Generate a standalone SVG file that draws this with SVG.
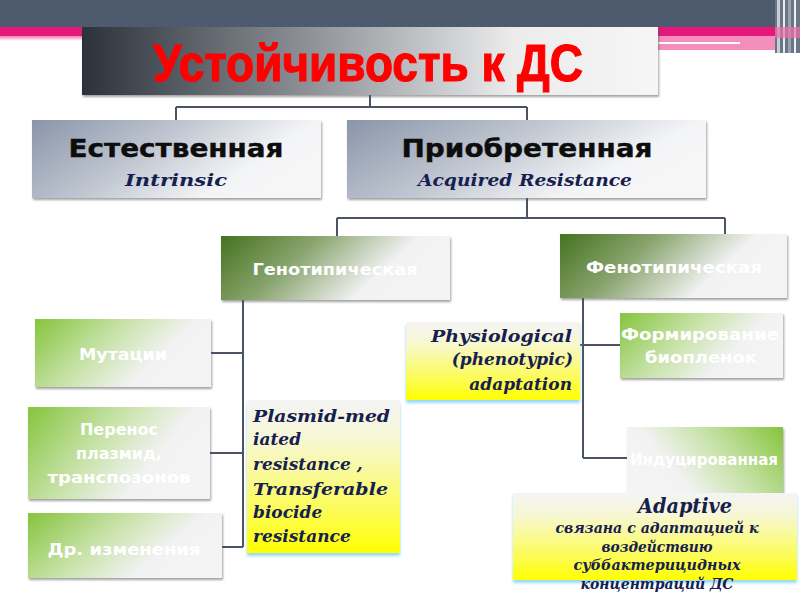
<svg xmlns="http://www.w3.org/2000/svg" width="800" height="600" viewBox="0 0 800 600">
<defs>
<linearGradient id="gTitle" x1="0" y1="0" x2="1" y2="0">
<stop offset="0" stop-color="#2c323b"/>
<stop offset="0.45" stop-color="#9c9fa4"/>
<stop offset="0.75" stop-color="#ececec"/>
<stop offset="1" stop-color="#f6f6f6"/>
</linearGradient>
<linearGradient id="gGrey" x1="0" y1="0" x2="1" y2="0.4">
<stop offset="0" stop-color="#8995a9"/>
<stop offset="0.5" stop-color="#c3c9d3"/>
<stop offset="0.85" stop-color="#f3f4f6"/>
<stop offset="1" stop-color="#f6f6f7"/>
</linearGradient>
<linearGradient id="gDark" x1="0" y1="0" x2="1" y2="0.3">
<stop offset="0" stop-color="#45731f"/>
<stop offset="0.4" stop-color="#8aa570"/>
<stop offset="0.8" stop-color="#f2f2f2"/>
<stop offset="1" stop-color="#f4f4f4"/>
</linearGradient>
<linearGradient id="gLight" x1="0" y1="0" x2="1" y2="0.4">
<stop offset="0" stop-color="#85c43e"/>
<stop offset="0.45" stop-color="#c6e2a6"/>
<stop offset="0.8" stop-color="#f2f2f2"/>
<stop offset="1" stop-color="#f4f4f4"/>
</linearGradient>
<linearGradient id="gLightR" x1="1" y1="0" x2="0" y2="0.4">
<stop offset="0" stop-color="#85c43e"/>
<stop offset="0.45" stop-color="#c6e2a6"/>
<stop offset="0.8" stop-color="#f2f2f2"/>
<stop offset="1" stop-color="#f4f4f4"/>
</linearGradient>
<linearGradient id="gYellow" x1="0" y1="0" x2="0" y2="1">
<stop offset="0" stop-color="#f4f4f4"/>
<stop offset="0.25" stop-color="#f7f7d6"/>
<stop offset="0.75" stop-color="#fcfc50"/>
<stop offset="1" stop-color="#ffff00"/>
</linearGradient>
<linearGradient id="gFade" x1="0" y1="0" x2="0" y2="1">
<stop offset="0" stop-color="#f07db2"/>
<stop offset="1" stop-color="#ffffff"/>
</linearGradient>
<filter id="sh" x="-5%" y="-5%" width="110%" height="120%">
<feDropShadow dx="1" dy="2" stdDeviation="1.2" flood-color="#555" flood-opacity="0.55"/>
</filter>
<filter id="glow" x="-5%" y="-5%" width="110%" height="120%">
<feDropShadow dx="0" dy="3" stdDeviation="1.5" flood-color="#7fd0f5" flood-opacity="0.8"/>
</filter>
<style>
.cn{fill:none;stroke:#4a5465;stroke-width:2}
.ru{font-family:"DejaVu Sans","Liberation Sans",sans-serif;font-weight:bold;text-anchor:middle}
.wh{fill:#ffffff;font-size:16px}
.big{fill:#0d0d0d;font-size:24px;stroke:#0d0d0d;stroke-width:0.4}
.en{font-family:"DejaVu Serif","Liberation Serif",serif;font-weight:bold;font-style:italic;fill:#16204f}
</style>
</defs>

<g id="background">
<rect x="0" y="0" width="800" height="27" fill="#4e5a6d"/>
<rect x="0" y="27" width="790" height="9" fill="#e3177c"/>
<rect x="0" y="36" width="790" height="5" fill="url(#gFade)"/>
<rect x="658" y="36" width="117" height="14" fill="#f38ebc"/>
<rect x="658" y="42" width="82" height="2" fill="#ffffff"/>
<rect x="775" y="0" width="25" height="53" fill="#6a7588"/>
<rect x="777" y="0" width="3" height="53" fill="#c8cdd5"/>
<rect x="783" y="0" width="2" height="53" fill="#e8eaee"/>
<rect x="788" y="0" width="3" height="53" fill="#9aa2b0"/>
<rect x="794" y="0" width="2" height="53" fill="#f0f0f3"/>
<rect x="775" y="27" width="25" height="11" fill="#ef6fab" opacity="0.7"/>
</g>

<g id="connectors">
<path class="cn" d="M370 95 V107 M176 107 H527 M176 107 V120 M527 107 V120"/>
<path class="cn" d="M527 198 V218 M337 218 H725 M337 218 V236 M725 218 V234"/>
<path class="cn" d="M243 300 V547 M211 353 H243 M210 453 H243 M222 547 H243"/>
<path class="cn" d="M583 298 V458 M580 345 H620 M583 458 H627"/>
</g>

<g id="title">
<rect x="82" y="27" width="576" height="68" fill="url(#gTitle)" filter="url(#sh)"/>
<text x="368" y="81" font-family="'Liberation Sans',Arial,sans-serif" font-weight="bold" font-size="52" fill="#ff0000" stroke="#ff0000" stroke-width="1.2" text-anchor="middle" textLength="430" lengthAdjust="spacingAndGlyphs">Устойчивость к ДС</text>
</g>

<g id="intrinsic">
<rect x="32" y="120" width="289" height="78" fill="url(#gGrey)" filter="url(#sh)"/>
<text class="ru big" x="176" y="157" textLength="215" lengthAdjust="spacingAndGlyphs">Естественная</text>
<text class="en" x="176" y="186" font-size="17" text-anchor="middle" textLength="102" lengthAdjust="spacingAndGlyphs">Intrinsic</text>
</g>

<g id="acquired">
<rect x="347" y="120" width="359" height="78" fill="url(#gGrey)" filter="url(#sh)"/>
<text class="ru big" x="527" y="157" textLength="251" lengthAdjust="spacingAndGlyphs">Приобретенная</text>
<text class="en" x="525" y="186" font-size="17" text-anchor="middle" textLength="214" lengthAdjust="spacingAndGlyphs">Acquired Resistance</text>
</g>

<g id="genotypic">
<rect x="221" y="236" width="229" height="64" fill="url(#gDark)" filter="url(#sh)"/>
<text class="ru wh" x="335" y="275" textLength="165" lengthAdjust="spacingAndGlyphs">Генотипическая</text>
</g>

<g id="phenotypic">
<rect x="560" y="234" width="227" height="64" fill="url(#gDark)" filter="url(#sh)"/>
<text class="ru wh" x="674" y="273" textLength="176" lengthAdjust="spacingAndGlyphs">Фенотипическая</text>
</g>

<g id="mutations">
<rect x="35" y="319" width="176" height="68" fill="url(#gLight)" filter="url(#sh)"/>
<text class="ru wh" x="123" y="360" font-size="17" textLength="88" lengthAdjust="spacingAndGlyphs">Мутации</text>
</g>

<g id="transfer">
<rect x="28" y="407" width="182" height="92" fill="url(#gLight)" filter="url(#sh)"/>
<text class="ru wh" x="119" y="435" font-size="17">Перенос</text>
<text class="ru wh" x="119" y="459" font-size="17">плазмид,</text>
<text class="ru wh" x="119" y="483" font-size="17" textLength="143" lengthAdjust="spacingAndGlyphs">транспозонов</text>
</g>

<g id="other">
<rect x="28" y="513" width="194" height="65" fill="url(#gLight)" filter="url(#sh)"/>
<text class="ru wh" x="124" y="555" font-size="17" textLength="153" lengthAdjust="spacingAndGlyphs">Др. изменения</text>
</g>

<g id="plasmid">
<rect x="247" y="400" width="153" height="153" fill="url(#gYellow)" filter="url(#glow)"/>
<text class="en" x="253" y="422" font-size="17" textLength="137" lengthAdjust="spacingAndGlyphs">Plasmid-med</text>
<text class="en" x="253" y="445" font-size="17">iated</text>
<text class="en" x="253" y="470" font-size="17">resistance ,</text>
<text class="en" x="253" y="495" font-size="17" textLength="135" lengthAdjust="spacingAndGlyphs">Transferable</text>
<text class="en" x="253" y="518" font-size="17">biocide</text>
<text class="en" x="253" y="542" font-size="17">resistance</text>
</g>

<g id="physiological">
<rect x="406" y="322" width="174" height="78" fill="url(#gYellow)" filter="url(#glow)"/>
<text class="en" x="572" y="342" font-size="17" text-anchor="end" textLength="141" lengthAdjust="spacingAndGlyphs">Physiological</text>
<text class="en" x="573" y="365" font-size="17" text-anchor="end">(phenotypic)</text>
<text class="en" x="572" y="390" font-size="17" text-anchor="end">adaptation</text>
</g>

<g id="biofilm">
<rect x="620" y="313" width="163" height="65" fill="url(#gLight)" filter="url(#sh)"/>
<text class="ru wh" x="700" y="340" font-size="17" textLength="158" lengthAdjust="spacingAndGlyphs">Формирование</text>
<text class="ru wh" x="701" y="363" font-size="17" textLength="112" lengthAdjust="spacingAndGlyphs">биопленок</text>
</g>

<g id="induced">
<rect x="627" y="427" width="156" height="75" fill="url(#gLightR)" filter="url(#sh)"/>
<text class="ru wh" x="704" y="465" font-size="16" textLength="148" lengthAdjust="spacingAndGlyphs">Индуцированная</text>
</g>

<g id="adaptive">
<rect x="513" y="493" width="284" height="87" fill="url(#gYellow)" filter="url(#glow)"/>
<text class="en" x="685" y="513" font-size="20" text-anchor="middle" textLength="94" lengthAdjust="spacingAndGlyphs">Adaptive</text>
<text class="en" x="657" y="533" font-size="14" text-anchor="middle" textLength="203" lengthAdjust="spacingAndGlyphs">связана с адаптацией к</text>
<text class="en" x="657" y="552" font-size="14" text-anchor="middle" textLength="111" lengthAdjust="spacingAndGlyphs">воздействию</text>
<text class="en" x="657" y="570" font-size="14" text-anchor="middle" textLength="167" lengthAdjust="spacingAndGlyphs">суббактерицидных</text>
<text class="en" x="657" y="589" font-size="14" text-anchor="middle" textLength="153" lengthAdjust="spacingAndGlyphs">концентраций ДС</text>
</g>
</svg>
